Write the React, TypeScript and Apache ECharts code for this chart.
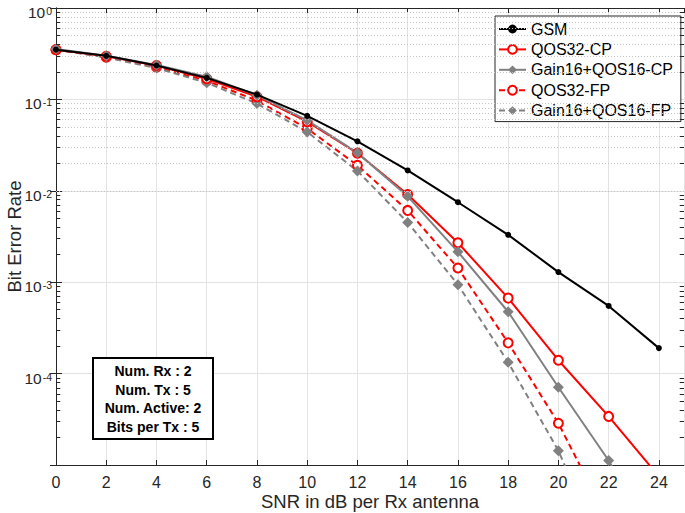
import React, { useEffect, useRef } from "react";
import * as echarts from "echarts";

const snr = [0, 2, 4, 6, 8, 10, 12, 14, 16, 18, 20, 22, 24];
const gsm = [0.35, 0.3, 0.235, 0.172, 0.113, 0.066, 0.0348, 0.0167, 0.0075, 0.0033, 0.00129, 0.00055, 0.00019];
const qos32cp = [0.35, 0.297, 0.235, 0.168, 0.107, 0.057, 0.0258, 0.0091, 0.0027, 0.00067, 0.00014, 0.000034, 0.0000075];
const gain16cp = [0.355, 0.3, 0.238, 0.177, 0.111, 0.059, 0.026, 0.0087, 0.00215, 0.000475, 0.000071, 0.0000112, 0.0000012];
const qos32fp = [0.35, 0.29, 0.225, 0.16, 0.097, 0.048, 0.019, 0.0061, 0.00143, 0.000217, 0.0000286, 0.0000024, 0.00000015];
const gain16fp = [0.35, 0.288, 0.22, 0.152, 0.09, 0.044, 0.0165, 0.0045, 0.00094, 0.000133, 0.0000143, 0.0000008, 0.00000002];

const seriesNames = ["GSM", "QOS32-CP", "Gain16+QOS16-CP", "QOS32-FP", "Gain16+QOS16-FP"];
const infoLines = ["Num. Rx : 2", "Num. Tx : 5", "Num. Active: 2", "Bits per Tx : 5"];
const decadeExps = [-5, -4, -3, -2, -1];
const minorMult = [2, 3, 4, 5, 6, 7, 8, 9];

const FONT = "'Liberation Sans', Arial, Helvetica, sans-serif";
const AXC = "#262626";

export default function App() {
  const ref = useRef<HTMLDivElement>(null);
  useEffect(() => {
    if (!ref.current) return;
    const chart = echarts.init(ref.current, undefined, { renderer: "svg" });
    const minorVals: number[] = [];
    decadeExps.forEach((e) => minorMult.forEach((m) => minorVals.push(m * Math.pow(10, e))));
    const pts = (ys: number[]) => snr.map((x, i) => [x, ys[i]]);
    const tickLen = 0.17;
    const dummyData = [[12, 0.001]];
    const option: any = {
      animation: false,
      backgroundColor: "#fff",
      grid: { left: 56, right: 1, top: 8, bottom: 48, containLabel: false, outerBoundsMode: "none" },
      xAxis: [
        {
          type: "value",
          min: 0,
          max: 25,
          interval: 2,
          position: "bottom",
          name: "SNR in dB per Rx antenna",
          nameLocation: "middle",
          nameGap: 27,
          nameMoveOverlap: false,
          nameTextStyle: { fontFamily: FONT, fontSize: 18.5, color: AXC },
          axisLine: { show: true, lineStyle: { color: AXC, width: 1 } },
          axisTick: { show: true, inside: true, length: 5, lineStyle: { color: AXC } },
          axisLabel: { showMaxLabel: false, margin: 9, fontFamily: FONT, fontSize: 16, color: AXC },
          splitLine: { show: true, lineStyle: { color: "#e3e3e3", width: 1 } },
        },
        {
          type: "value",
          min: 0,
          max: 25,
          interval: 2,
          position: "top",
          axisLine: { show: true, onZero: false, lineStyle: { color: AXC, width: 1 } },
          axisTick: { show: true, inside: true, length: 5, lineStyle: { color: AXC } },
          axisLabel: { show: false },
          splitLine: { show: false },
        },
      ],
      yAxis: [
        {
          type: "log",
          logBase: 10,
          min: 1e-5,
          max: 1,
          position: "left",
          name: "Bit Error Rate",
          nameLocation: "middle",
          nameGap: 32,
          nameMoveOverlap: false,
          nameTextStyle: { fontFamily: FONT, fontSize: 18.5, color: AXC },
          axisLine: { show: true, lineStyle: { color: AXC, width: 1 } },
          axisTick: { show: true, inside: true, length: 6, lineStyle: { color: AXC } },
          axisLabel: {
            showMinLabel: false,
            margin: 4,
            formatter: (v: number) => `{b|10}{s|${Math.round(Math.log10(v))}}`,
            rich: {
              b: { fontFamily: FONT, fontSize: 15.5, color: AXC, lineHeight: 15, padding: [9, 0, 0, 0] },
              s: { fontFamily: FONT, fontSize: 10.5, color: AXC, verticalAlign: "top", lineHeight: 10, padding: [5, 0, 0, 1] },
            },
          },
          splitLine: { show: true, lineStyle: { color: "#e3e3e3", width: 1 } },
        },
        {
          type: "log",
          logBase: 10,
          min: 1e-5,
          max: 1,
          position: "right",
          axisLine: { show: true, lineStyle: { color: AXC, width: 1 } },
          axisTick: { show: true, inside: true, length: 6, lineStyle: { color: AXC } },
          axisLabel: { show: false },
          splitLine: { show: false },
        },
      ],
      legend: {
        data: seriesNames,
        orient: "vertical",
        left: 495,
        top: 16,
        padding: [4, 8, 2, 3],
        itemGap: 2.4,
        itemWidth: 27,
        itemHeight: 11,
        backgroundColor: "#fff",
        borderColor: AXC,
        borderWidth: 1,
        borderRadius: 0,
        textStyle: { fontFamily: FONT, fontSize: 16, color: "#000", lineHeight: 18 },
      },
      graphic: [
        {
          type: "rect",
          x: 93,
          y: 358,
          shape: { x: 0, y: 0, width: 120, height: 81 },
          style: { fill: "#fff", stroke: "#000", lineWidth: 2 },
          z: 10,
        },
        {
          type: "text",
          x: 153,
          y: 362,
          z: 11,
          style: {
            text: infoLines.join("\n"),
            fontFamily: FONT,
            fontSize: 14,
            fontWeight: "bold",
            fill: "#000",
            align: "center",
            verticalAlign: "top",
            lineHeight: 18.5,
          },
        },
      ],
      series: [
        {
          type: "line",
          name: "_minorgrid",
          data: dummyData,
          symbol: "none",
          lineStyle: { opacity: 0 },
          z: 1,
          silent: true,
          markLine: {
            silent: true,
            symbol: ["none", "none"],
            label: { show: false },
            animation: false,
            lineStyle: { type: [1, 2], color: "#c4c4c4", width: 1 },
            data: minorVals.map((v) => ({ yAxis: v })),
          },
        },
        {
          type: "line",
          name: "_minorticks",
          data: dummyData,
          symbol: "none",
          lineStyle: { opacity: 0 },
          z: 1,
          silent: true,
          markLine: {
            silent: true,
            symbol: ["none", "none"],
            label: { show: false },
            animation: false,
            lineStyle: { type: "solid", color: AXC, width: 1 },
            data: minorVals.flatMap((v) => [
              [{ coord: [0, v] }, { coord: [tickLen, v] }],
              [{ coord: [25 - tickLen, v] }, { coord: [25, v] }],
            ]),
          },
        },
        {
          type: "line",
          name: seriesNames[0],
          data: pts(gsm),
          symbol: "circle",
          symbolSize: 6,
          color: "#000",
          itemStyle: { color: "#000" },
          lineStyle: { color: "#000", width: 2 },
          z: 5,
        },
        {
          type: "line",
          name: seriesNames[1],
          data: pts(qos32cp),
          symbol: "emptyCircle",
          symbolSize: 9,
          color: "#ff0000",
          itemStyle: { color: "#ff0000", borderColor: "#ff0000", borderWidth: 2 },
          lineStyle: { color: "#ff0000", width: 2 },
          z: 4,
        },
        {
          type: "line",
          name: seriesNames[2],
          data: pts(gain16cp),
          symbol: "diamond",
          symbolSize: 11,
          color: "#808080",
          itemStyle: { color: "#808080" },
          lineStyle: { color: "#808080", width: 2 },
          z: 4,
        },
        {
          type: "line",
          name: seriesNames[3],
          data: pts(qos32fp),
          symbol: "emptyCircle",
          symbolSize: 9,
          color: "#ff0000",
          itemStyle: { color: "#ff0000", borderColor: "#ff0000", borderWidth: 2 },
          lineStyle: { color: "#ff0000", width: 2, type: [6, 4] },
          z: 3,
        },
        {
          type: "line",
          name: seriesNames[4],
          data: pts(gain16fp),
          symbol: "diamond",
          symbolSize: 11,
          color: "#808080",
          itemStyle: { color: "#808080" },
          lineStyle: { color: "#808080", width: 2, type: [6, 4] },
          z: 3,
        },
      ],
    };
    chart.setOption(option);
    return () => chart.dispose();
  }, []);
  return <div ref={ref} style={{ width: 685, height: 513, position: "absolute", left: 0, top: 0 }} />;
}
